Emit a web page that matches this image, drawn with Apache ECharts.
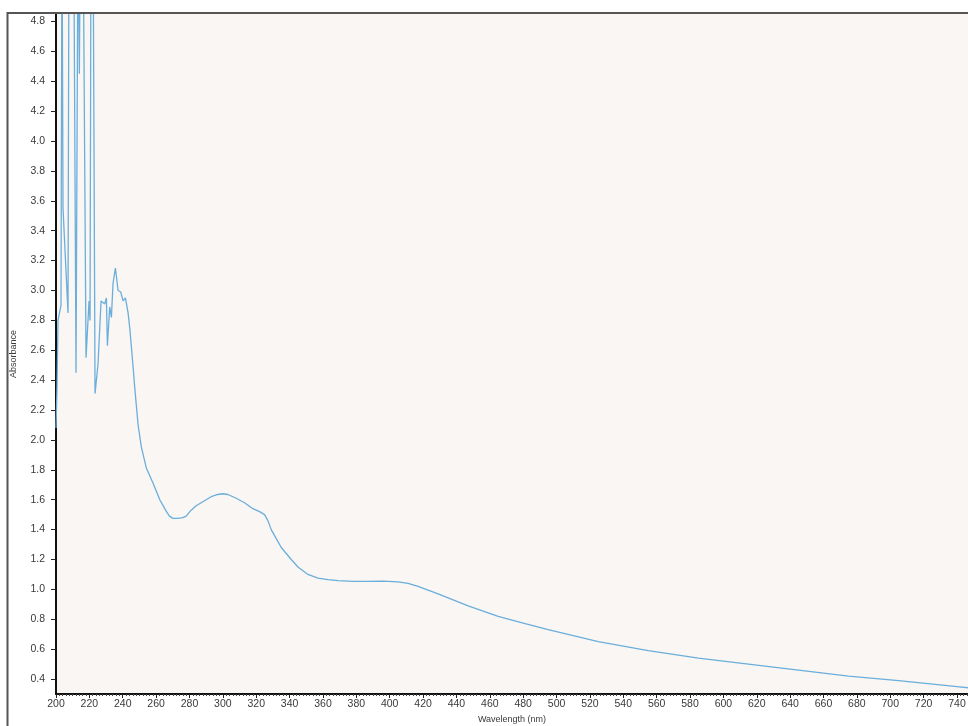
<!DOCTYPE html>
<html>
<head>
<meta charset="utf-8">
<script src="https://cdn.jsdelivr.net/npm/echarts@6/dist/echarts.min.js"></script>
<style>
  html, body { margin: 0; padding: 0; background: #ffffff; }
  #chart { width: 968px; height: 726px; }
</style>
</head>
<body>
<div id="chart"></div>
<script>
// wavelength (nm) and absorbance
var wavelength = [200, 200.6, 201.2, 203, 203.6, 204.2, 207.2, 207.8, 210.6, 212, 213.2, 214, 214.6, 216.2, 218,
    219.8, 220.4, 221, 222.2, 223.4, 225.2, 227, 229.2, 230.2, 230.8, 232.2, 233.2, 234.2, 235.6, 237.2,
    238.8, 240.2, 241.6, 243.2, 244.2, 245.2, 246.2, 247.2, 249.2, 251.2, 254.2, 258.2, 262.2, 266.2,
    268, 270, 273, 276, 278, 281, 284, 287, 293, 297, 300, 303, 308, 313, 318, 322, 325, 327, 329,
    332, 335, 338, 341, 345, 351, 357, 363, 369, 378, 387, 396, 405, 411, 417, 423, 429, 438, 447, 456,
    465, 480, 495, 510, 525, 555, 585, 615, 645, 675, 705, 740, 748];
var absorbance = [2.08, 2.35, 2.8, 2.9, 5.5, 3.55, 2.85, 5.5, 5.5, 2.45, 5.5, 4.45, 5.5, 5.5, 2.55,
    2.93, 2.8, 5.5, 5.5, 2.31, 2.51, 2.93, 2.91, 2.95, 2.63, 2.89, 2.82, 3.05, 3.15, 3.0,
    2.99, 2.93, 2.95, 2.85, 2.75, 2.62, 2.49, 2.35, 2.1, 1.95, 1.81, 1.71, 1.60, 1.52,
    1.49, 1.475, 1.475, 1.48, 1.49, 1.53, 1.56, 1.58, 1.62, 1.635, 1.64, 1.635, 1.61, 1.58, 1.54, 1.52, 1.50, 1.46, 1.40,
    1.34, 1.28, 1.24, 1.20, 1.15, 1.10, 1.075, 1.065, 1.058, 1.053, 1.053, 1.055, 1.05, 1.04, 1.02, 0.995, 0.97, 0.93, 0.89, 0.855,
    0.82, 0.775, 0.73, 0.69, 0.65, 0.59, 0.54, 0.50, 0.46, 0.42, 0.39, 0.35, 0.34];
var yTicks = [0.4, 0.6, 0.8, 1.0, 1.2, 1.4, 1.6, 1.8, 2.0, 2.2, 2.4, 2.6, 2.8, 3.0, 3.2, 3.4, 3.6, 3.8, 4.0, 4.2, 4.4, 4.6, 4.8];

var points = [];
for (var i = 0; i < wavelength.length; i++) {
    points.push([wavelength[i], absorbance[i]]);
}

var chart = echarts.init(document.getElementById('chart'));
var labelFont = { color: '#3a3a3a', fontSize: 10.5, fontFamily: 'Liberation Sans' };

chart.setOption({
    backgroundColor: '#ffffff',
    animation: false,
    graphic: [{
        type: 'rect',
        z: 100,
        shape: { x: 7.5, y: 13, width: 1000, height: 800 },
        style: { fill: 'none', stroke: '#555555', lineWidth: 2 }
    }],
    grid: {
        left: 56, right: 0, top: 14, bottom: 32,
        outerBoundsMode: 'none',
        containLabel: false,
        show: true, backgroundColor: '#faf6f3', borderWidth: 0
    },
    xAxis: {
        type: 'value',
        min: 200, max: 746.6, interval: 20,
        name: 'Wavelength (nm)',
        nameLocation: 'middle',
        nameGap: 20,
        nameTextStyle: { color: '#3a3a3a', fontSize: 9, fontFamily: 'Liberation Sans' },
        axisLine: { show: true, onZero: false, lineStyle: { color: '#111111', width: 2 } },
        axisTick: { show: true, length: 4, inside: false, lineStyle: { color: '#222222', width: 1 } },
        minorTick: { show: true, splitNumber: 10, length: 2, lineStyle: { color: '#444444', width: 1 } },
        splitLine: { show: false },
        axisLabel: Object.assign({ margin: 5 }, labelFont)
    },
    yAxis: {
        type: 'value',
        min: 0.3, max: 4.85,
        name: 'Absorbance',
        nameLocation: 'middle',
        nameGap: 38,
        nameTextStyle: { color: '#3a3a3a', fontSize: 9, fontFamily: 'Liberation Sans' },
        axisLine: { show: true, onZero: false, lineStyle: { color: '#111111', width: 2 } },
        axisTick: { show: true, length: 5, customValues: yTicks, lineStyle: { color: '#222222', width: 1 } },
        splitLine: { show: false },
        axisLabel: Object.assign({
            margin: 11,
            customValues: yTicks,
            formatter: function (v) { return v.toFixed(1); }
        }, labelFont)
    },
    series: [{
        type: 'line',
        data: points,
        showSymbol: false,
        clip: true,
        lineStyle: { color: '#6aaedb', width: 1.3 }
    }]
});
</script>
</body>
</html>
